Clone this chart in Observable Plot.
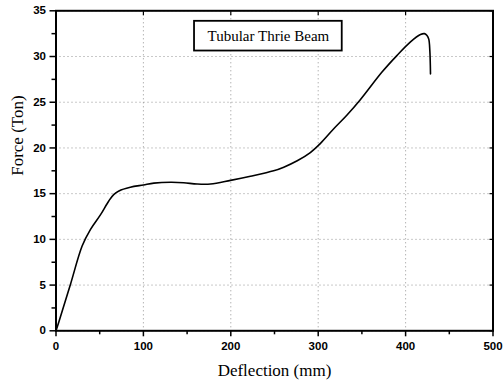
<!DOCTYPE html>
<html>
<head>
<meta charset="utf-8">
<script src="https://cdn.jsdelivr.net/npm/d3@7"></script>
<script src="https://cdn.jsdelivr.net/npm/@observablehq/plot@0.6"></script>
<style>
  html, body { margin: 0; padding: 0; background: white; }
  #chart svg { display: block; }
</style>
</head>
<body>
<div id="chart"></div>
<script>
// Tick values
const xMajor = [0, 100, 200, 300, 400, 500];
const xMinor = [50, 150, 250, 350, 450];
const yMajor = [0, 5, 10, 15, 20, 25, 30, 35];
const yMinor = [2.5, 7.5, 12.5, 17.5, 22.5, 27.5, 32.5];

// Series: Tubular Thrie Beam
const deflection = [0, 5, 16.6, 30, 39.5, 51, 60.4, 66, 72, 85, 100, 112, 131, 146, 161.5, 176.8, 199.7, 222.5, 249, 260.6, 276, 291, 302.6, 317.8, 333, 348.4, 373, 390, 405.6, 417, 421.6, 424.5, 426.5, 427.7, 428.5];
const force      = [0, 1.5, 5.1, 9.3, 11.1, 12.7, 14.2, 14.9, 15.3, 15.7, 15.95, 16.15, 16.25, 16.2, 16.05, 16.05, 16.45, 16.9, 17.5, 17.9, 18.6, 19.5, 20.5, 22.1, 23.6, 25.3, 28.3, 30.1, 31.6, 32.4, 32.5, 32.3, 31.9, 30.7, 28.1];

// Legend annotation (data units)
const legendBox = [{x1: 158.5, x2: 327.5, y1: 30.6, y2: 33.85}];
const legendCenter = [{x: 243, y: 32.2, label: "Tubular Thrie Beam"}];

const data = deflection.map((d, i) => ({x: d, y: force[i]}));

const tickFont = {fontSize: 11.5, fontWeight: "bold", fontFamily: "Liberation Sans, Arial, sans-serif"};
const gridStyle = {stroke: "#888", strokeOpacity: 0.9, strokeDasharray: "1,3", strokeWidth: 1};

const chart = Plot.plot({
  width: 503,
  height: 384,
  marginLeft: 55.5,
  marginRight: 10.5,
  marginTop: 10.3,
  marginBottom: 53.7,
  style: {background: "white", color: "black"},
  x: {domain: [0, 500]},
  y: {domain: [0, 35]},
  marks: [
    Plot.gridX(xMajor, gridStyle),
    Plot.gridY(yMajor, gridStyle),
    Plot.axisX(xMinor, {tickSize: 4, text: null, label: null, strokeWidth: 1.5}),
    Plot.axisX(xMajor, {tickSize: 6, tickPadding: 5, strokeWidth: 1.5, label: null, ...tickFont}),
    Plot.axisY(yMinor, {tickSize: 4, text: null, label: null, strokeWidth: 1.5}),
    Plot.axisY(yMajor, {tickSize: 6, tickPadding: 4, strokeWidth: 1.5, label: null, ...tickFont}),
    Plot.axisY(yMajor, {anchor: "right", tickSize: 4, dx: -4, text: null, label: null, strokeWidth: 1.2}),
    Plot.axisX(xMajor, {anchor: "top", tickSize: 4, dy: 4, text: null, label: null, strokeWidth: 1.2}),
    Plot.frame({stroke: "black", strokeWidth: 2}),
    Plot.line(data, {x: "x", y: "y", stroke: "black", strokeWidth: 1.6, curve: "catmull-rom"}),
    Plot.rect(legendBox, {x1: "x1", x2: "x2", y1: "y1", y2: "y2", fill: "white", stroke: "black", strokeWidth: 1.8}),
    Plot.text(legendCenter, {x: "x", y: "y", text: "label", fontSize: 15, fontFamily: "Liberation Serif, Times New Roman, serif", fill: "black"}),
    Plot.text(["Deflection (mm)"], {frameAnchor: "bottom", dy: 45, fontSize: 17, fontFamily: "Liberation Serif, Times New Roman, serif", fill: "black"}),
    Plot.text(["Force (Ton)"], {frameAnchor: "left", dx: -38, dy: 5, rotate: -90, fontSize: 17, fontFamily: "Liberation Serif, Times New Roman, serif", fill: "black"})
  ]
});

document.getElementById("chart").appendChild(chart);
</script>
</body>
</html>
